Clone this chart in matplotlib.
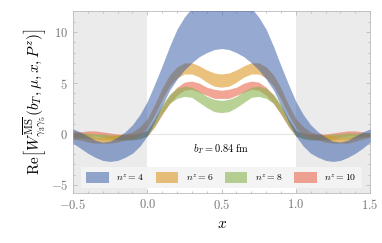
import numpy as np
import matplotlib.pyplot as plt
from matplotlib.patches import Patch

plt.rcParams['mathtext.fontset'] = 'cm'
plt.rcParams['font.family'] = ['DejaVu Serif']

# x grid (step 0.05)
x = np.arange(-0.5, 1.5001, 0.05)

# n^z = 4
b4_hi = [0.5, 0.2, -0.2, -0.6, -0.8, -0.7, -0.3, 0.2, 0.9, 1.9, 3.2, 4.9, 6.7, 8.6, 10.3, 11.5, 12.4, 13.1, 13.6, 13.9, 14.0,
         13.9, 13.6, 13.1, 12.4, 11.5, 10.3, 8.6, 6.7, 4.9, 3.2, 1.9, 0.9, 0.2, -0.3, -0.7, -0.8, -0.6, -0.2, 0.2, 0.5]
b4_lo = [-0.9, -1.4, -1.9, -2.3, -2.6, -2.7, -2.6, -2.3, -1.9, -1.2, -0.2, 1.2, 2.8, 4.3, 5.4, 6.3, 7.0, 7.6, 8.0, 8.3, 8.4,
         8.3, 8.0, 7.6, 7.0, 6.3, 5.4, 4.3, 2.8, 1.2, -0.2, -1.2, -1.9, -2.3, -2.6, -2.7, -2.6, -2.3, -1.9, -1.4, -0.8]
# n^z = 6
b6_hi = [0.3, 0.1, -0.1, -0.3, -0.3, -0.2, -0.1, 0.0, 0.2, 0.7, 1.5, 2.9, 4.5, 5.8, 6.6, 7.0, 7.0, 6.7, 6.3, 6.0, 5.9,
         6.0, 6.3, 6.7, 7.0, 7.0, 6.6, 5.8, 4.5, 2.9, 1.5, 0.7, 0.2, 0.0, -0.1, -0.2, -0.3, -0.3, -0.2, 0.0, 0.1]
b6_lo = [-0.5, -0.6, -0.8, -0.9, -0.9, -0.9, -0.8, -0.6, -0.5, -0.1, 0.6, 1.9, 3.4, 4.7, 5.5, 5.9, 5.9, 5.6, 5.1, 4.7, 4.6,
         4.7, 5.1, 5.6, 5.9, 5.9, 5.5, 4.7, 3.4, 1.9, 0.6, -0.1, -0.5, -0.6, -0.8, -0.9, -0.9, -0.9, -0.7, -0.5, -0.3]
# n^z = 8
b8_hi = [0.1, 0.1, 0.1, 0.0, 0.0, -0.1, -0.1, -0.1, -0.1, 0.0, 0.4, 1.5, 2.9, 3.9, 4.5, 4.7, 4.6, 4.2, 3.7, 3.4, 3.3,
         3.4, 3.7, 4.2, 4.6, 4.7, 4.5, 3.9, 2.9, 1.5, 0.4, 0.0, -0.1, -0.1, -0.1, 0.0, 0.0, 0.1, 0.1, 0.1, 0.1]
b8_lo = [-0.4, -0.4, -0.5, -0.5, -0.6, -0.6, -0.6, -0.6, -0.6, -0.5, -0.2, 0.8, 2.0, 3.0, 3.5, 3.7, 3.6, 3.1, 2.6, 2.2, 2.1,
         2.2, 2.6, 3.1, 3.6, 3.7, 3.5, 3.0, 2.0, 0.8, -0.2, -0.5, -0.6, -0.6, -0.6, -0.6, -0.5, -0.5, -0.4, -0.3, -0.3]
# n^z = 10
b10_hi = [0.2, 0.2, 0.3, 0.3, 0.2, 0.1, 0.0, 0.0, 0.0, 0.1, 0.3, 1.4, 2.7, 3.8, 4.6, 5.1, 5.2, 5.0, 4.6, 4.4, 4.3,
          4.4, 4.6, 5.0, 5.2, 5.1, 4.6, 3.8, 2.7, 1.4, 0.3, 0.1, 0.0, 0.0, 0.0, 0.1, 0.2, 0.3, 0.3, 0.2, 0.1]
b10_lo = [-0.3, -0.3, -0.2, -0.2, -0.3, -0.4, -0.5, -0.5, -0.5, -0.4, -0.2, 0.7, 1.9, 3.0, 3.8, 4.3, 4.4, 4.1, 3.8, 3.5, 3.5,
          3.5, 3.8, 4.1, 4.4, 4.3, 3.8, 3.0, 1.9, 0.7, -0.2, -0.4, -0.5, -0.5, -0.5, -0.4, -0.3, -0.2, -0.2, -0.2, -0.2]

labels = [r'$n^z=4$', r'$n^z=6$', r'$n^z=8$', r'$n^z=10$']
colors = ['#2f55a5', '#dc9420', '#8ab34f', '#ea6a4f']
alphas = [0.5, 0.58, 0.6, 0.6]

fig = plt.figure(figsize=(3.82, 2.43), dpi=100)
ax = fig.add_axes([0.191, 0.206, 0.778, 0.749])

ax.axvspan(-0.5, 0, color='#ebebeb', lw=0, zorder=0)
ax.axvspan(1, 1.5, color='#ebebeb', lw=0, zorder=0)
ax.axhline(0, color='#e6e6e6', lw=0.8, zorder=0.5)

ax.fill_between(x, b10_lo, b10_hi, color=colors[3], alpha=alphas[3], lw=0, zorder=1)
ax.fill_between(x, b8_lo, b8_hi, color=colors[2], alpha=alphas[2], lw=0, zorder=2)
ax.fill_between(x, b6_lo, b6_hi, color=colors[1], alpha=alphas[1], lw=0, zorder=3)
ax.fill_between(x, b4_lo, b4_hi, color=colors[0], alpha=alphas[0], lw=0, zorder=4)

ax.set_xlim(-0.5, 1.5)
ax.set_ylim(-5.8, 12.1)
ax.set_xticks([-0.5, 0, 0.5, 1.0, 1.5])
ax.set_xticklabels([r'$-0.5$', r'$0.0$', r'$0.5$', r'$1.0$', r'$1.5$'])
ax.set_yticks([-5, 0, 5, 10])
ax.set_yticklabels([r'$-5$', r'$0$', r'$5$', r'$10$'])
ax.set_xticks(np.arange(-0.5, 1.51, 0.1), minor=True)
ax.set_yticks(np.arange(-5, 12, 1), minor=True)
ax.tick_params(which='both', direction='in', top=True, right=True, colors='#bbbbbb',
               labelcolor='#777777', labelsize=9, width=0.6)
ax.tick_params(which='major', length=3)
ax.tick_params(which='minor', length=1.5)
for s in ax.spines.values():
    s.set_color('#bbbbbb')
    s.set_linewidth(0.6)

ax.text(0.5, -1.5, r'$b_T=0.84\ \mathrm{fm}$', ha='center', va='center', fontsize=7.5, zorder=6)

handles = [Patch(facecolor=c, alpha=a, edgecolor='none') for c, a in zip(colors, alphas)]
leg = ax.legend(handles, labels, ncol=4, loc='lower center', bbox_to_anchor=(0.5, 0.02),
                fontsize=7, frameon=True, fancybox=False, handlelength=2.3, handleheight=1.5,
                columnspacing=1.2, handletextpad=0.8, borderpad=0.5, borderaxespad=0.1)
leg.get_frame().set_facecolor('#f4f4f4')
leg.get_frame().set_edgecolor('none')
leg.get_frame().set_alpha(0.95)
leg.set_zorder(7)

ax.set_xlabel(r'$x$', fontsize=11)
ax.set_ylabel(r'$\mathrm{Re}\left[W^{\overline{\mathrm{MS}}}_{\gamma_3\gamma_5}(b_T,\mu,x,P^z)\right]$', fontsize=11,
              labelpad=2)

plt.savefig('out.png', dpi=100)
